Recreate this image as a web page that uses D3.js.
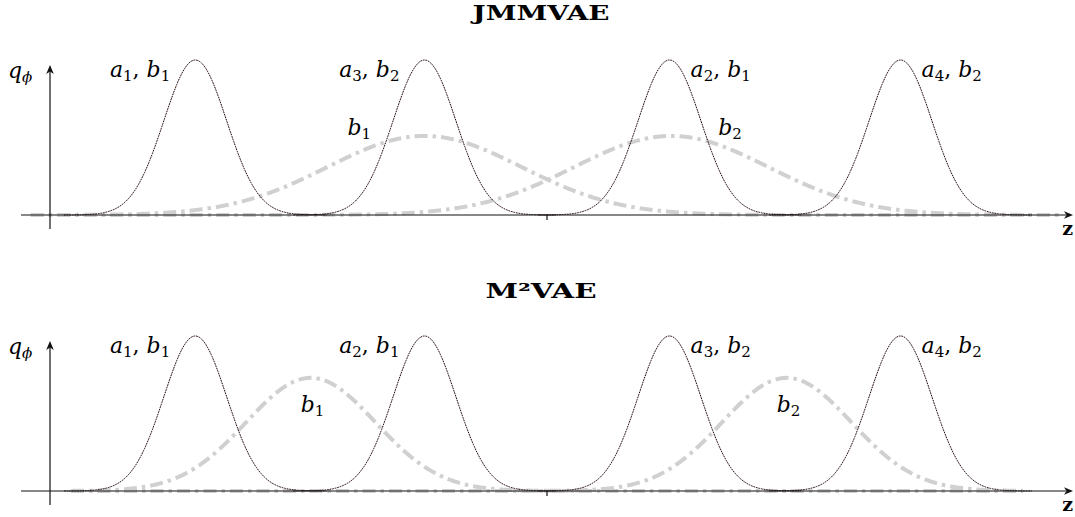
<!DOCTYPE html>
<html>
<head>
<meta charset="utf-8">
<script src="https://cdn.jsdelivr.net/npm/d3@7"></script>
<style>
  body { margin: 0; background: #fff; }
  svg { display: block; }
</style>
</head>
<body>
<div id="chart"></div>
<script>
// latent axis z in plot units, density q_phi normalised so the narrow peaks are 1
const zDomain = [-3, 3];
const peakMeans = [-2.01, -0.70, 0.70, 2.02];
const peakSigma = 0.18;

const titles = ["JMMVAE", "M\u00b2VAE"];

// [symbol, index, symbol, index]
const topPeakLabels = [["a", "1", "b", "1"], ["a", "3", "b", "2"], ["a", "2", "b", "1"], ["a", "4", "b", "2"]];
const bottomPeakLabels = [["a", "1", "b", "1"], ["a", "2", "b", "1"], ["a", "3", "b", "2"], ["a", "4", "b", "2"]];

const topModeMeans = [-0.70, 0.71];
const topModeSigma = 0.555;
const topModeHeight = 0.51;
const topModeRange = [-2.95, 2.95];

const bottomModeMeans = [-1.35, 1.37];
const bottomModeSigma = 0.37;
const bottomModeHeight = 0.73;
const bottomModeRange = [-2.72, 2.72];

const modeLabels = [["b", "1"], ["b", "2"]];

const width = 1075, height = 517;

const svg = d3.select("#chart").append("svg")
    .attr("width", width)
    .attr("height", height)
    .attr("viewBox", `0 0 ${width} ${height}`);

const x = d3.scaleLinear().domain(zDomain).range([22, 1072]);

const serif = "'DejaVu Serif', 'Liberation Serif', serif";

function gauss(mu, sigma, amp) {
    return z => amp * Math.exp(-((z - mu) * (z - mu)) / (2 * sigma * sigma));
}

function samples(lo, hi) {
    const pts = d3.range(lo, hi, 0.005);
    pts.push(hi);
    return pts;
}

// italic symbol with upright subscript index
function mathLabel(sel, parts) {
    for (let i = 0; i < parts.length; i += 2) {
        if (i > 0) sel.append("tspan").attr("font-style", "normal").attr("dy", -4).text(", ");
        sel.append("tspan").attr("font-style", "italic").text(parts[i]);
        sel.append("tspan")
            .attr("font-style", "normal")
            .attr("font-size", 15)
            .attr("dy", 4)
            .text(parts[i + 1]);
    }
}

const panels = [
    { base: 215, title: titles[0], titleY: 20, peakLabels: topPeakLabels,
      modeMeans: topModeMeans, modeSigma: topModeSigma, modeHeight: topModeHeight, modeRange: topModeRange },
    { base: 491, title: titles[1], titleY: 298, peakLabels: bottomPeakLabels,
      modeMeans: bottomModeMeans, modeSigma: bottomModeSigma, modeHeight: bottomModeHeight, modeRange: bottomModeRange }
];

panels.forEach((p, pi) => {
    const y = d3.scaleLinear().domain([0, 1]).range([p.base, p.base - 155]);
    const g = svg.append("g").attr("class", "panel");

    const line = d3.line().x(d => x(d[0])).y(d => y(d[1]));

    // title
    g.append("text")
        .attr("x", 541)
        .attr("y", p.titleY)
        .attr("text-anchor", "middle")
        .attr("font-family", serif)
        .attr("font-weight", "bold")
        .attr("font-size", 20)
        .attr("textLength", pi === 0 ? 137 : 111)
        .attr("lengthAdjust", "spacingAndGlyphs")
        .text(p.title);

    // broad modes (gray dash-dot)
    g.append("g").selectAll("path")
        .data(p.modeMeans)
        .enter().append("path")
        .attr("fill", "none")
        .attr("stroke", "#d0d0d0")
        .attr("stroke-width", 4)
        .attr("stroke-dasharray", "13,5,3.5,5")
        .attr("d", mu => {
            const f = gauss(mu, p.modeSigma, p.modeHeight);
            return line(samples(p.modeRange[0], p.modeRange[1]).map(z => [z, f(z)]));
        });

    // narrow peaks (fine dotted)
    g.append("g").selectAll("path")
        .data(peakMeans)
        .enter().append("path")
        .attr("fill", "none")
        .attr("stroke", "#220808")
        .attr("stroke-width", 1)
        .attr("stroke-dasharray", "1.8,0.8")
        .attr("d", mu => {
            const f = gauss(mu, peakSigma, 1);
            return line(samples(mu - 0.75, mu + 0.75).map(z => [z, f(z)]));
        });

    // axes
    const ax = g.append("g").attr("stroke", "#111").attr("stroke-width", 1.2);
    ax.append("line")
        .attr("x1", 21).attr("x2", 1066)
        .attr("y1", p.base).attr("y2", p.base);
    ax.append("line")
        .attr("x1", 50).attr("x2", 50)
        .attr("y1", p.base + 14).attr("y2", p.base - 144);
    ax.append("line")
        .attr("x1", x(0)).attr("x2", x(0))
        .attr("y1", p.base).attr("y2", p.base + 5);

    g.append("path")
        .attr("fill", "#111")
        .attr("d", `M1073,${p.base} L1064,${p.base - 3.8} L1066.5,${p.base} L1064,${p.base + 3.8} Z`);
    g.append("path")
        .attr("fill", "#111")
        .attr("d", `M50,${p.base - 150} L46.2,${p.base - 141} L50,${p.base - 143.5} L53.8,${p.base - 141} Z`);

    // axis labels
    const q = g.append("text")
        .attr("x", 8)
        .attr("y", p.base - 137)
        .attr("font-family", serif)
        .attr("font-size", 22)
        .attr("font-style", "italic");
    q.append("tspan").text("q");
    q.append("tspan").attr("font-size", 15).attr("dy", 4).text("\u03d5");

    g.append("text")
        .attr("x", 1073)
        .attr("y", p.base + 20)
        .attr("text-anchor", "end")
        .attr("font-family", serif)
        .attr("font-weight", "bold")
        .attr("font-size", 19)
        .text("z");

    // peak labels: left of peaks in the left half, right of peaks in the right half
    g.append("g").selectAll("text")
        .data(p.peakLabels)
        .enter().append("text")
        .attr("x", (d, i) => peakMeans[i] < 0 ? x(peakMeans[i]) - 25 : x(peakMeans[i]) + 21)
        .attr("y", p.base - 138)
        .attr("text-anchor", (d, i) => peakMeans[i] < 0 ? "end" : "start")
        .attr("font-family", serif)
        .attr("font-size", 22)
        .each(function(d) { mathLabel(d3.select(this), d); });

    // mode labels
    g.append("g").selectAll("text")
        .data(modeLabels)
        .enter().append("text")
        .attr("x", (d, i) => {
            if (pi === 1) return x(p.modeMeans[i]) - 10;
            return i === 0 ? x(p.modeMeans[i]) - 77 : x(p.modeMeans[i]) + 47;
        })
        .attr("y", pi === 0 ? p.base - 80 : p.base - 79)
        .attr("font-family", serif)
        .attr("font-size", 22)
        .each(function(d) { mathLabel(d3.select(this), d); });
});
</script>
</body>
</html>
